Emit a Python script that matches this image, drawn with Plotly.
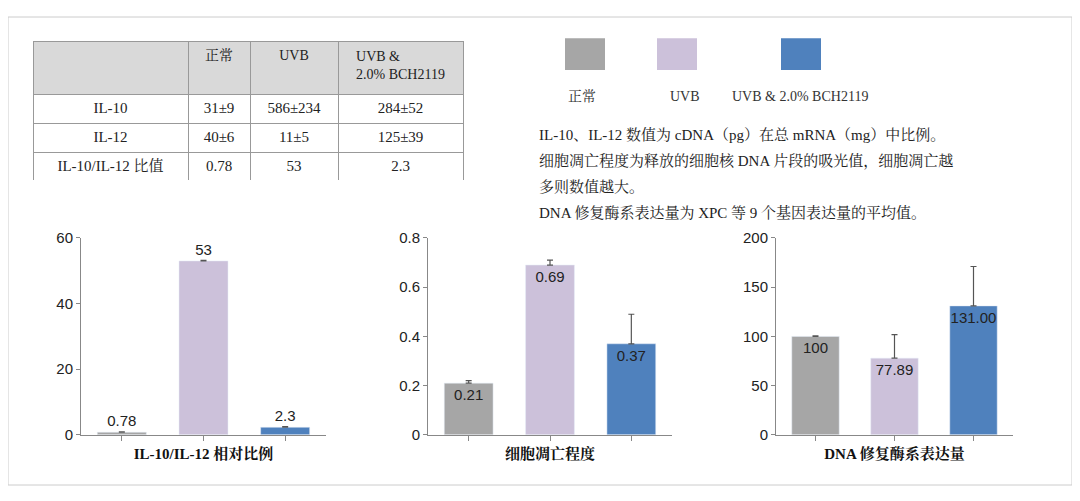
import plotly.graph_objects as go

groups = ["正常", "UVB", "UVB & 2.0% BCH2119"]
colors = ["#a6a6a6", "#ccc1da", "#4f81bd"]
ratio_vals = [0.78, 53, 2.3]
ratio_err = [0.15, 0.2, 0.2]
ratio_lbl = ["0.78", "53", "2.3"]
apop_vals = [0.21, 0.69, 0.37]
apop_err = [0.01, 0.02, 0.12]
apop_lbl = ["0.21", "0.69", "0.37"]
dna_vals = [100, 77.89, 131.00]
dna_err = [0.5, 24, 40]
dna_lbl = ["100", "77.89", "131.00"]

tbl_head = ["", "正常", "UVB", "UVB &<br>2.0% BCH2119"]
tbl_rows = ["IL-10", "IL-12", "IL-10/IL-12 比值"]
tbl_c1 = ["31±9", "40±6", "0.78"]
tbl_c2 = ["586±234", "11±5", "53"]
tbl_c3 = ["284±52", "125±39", "2.3"]

notes = ["IL-10、IL-12 数值为 cDNA（pg）在总 mRNA（mg）中比例。",
         "细胞凋亡程度为释放的细胞核 DNA 片段的吸光值，细胞凋亡越",
         "多则数值越大。",
         "DNA 修复酶系表达量为 XPC 等 9 个基因表达量的平均值。"]

FONT = "Liberation Serif, Noto Serif CJK SC, Noto Sans CJK SC"
SANS = "Liberation Sans, Arial, Noto Sans CJK SC"
OFF = 8
W, H = 1080 - 2 * OFF, 501 - 2 * OFF
def px(x): return (x - OFF) / W
def py(y): return 1 - (y - OFF) / H

fig = go.Figure()
fig.add_trace(go.Table(
    domain=dict(x=[px(33), px(463)], y=[py(178), py(33)]),
    columnwidth=[155, 62, 88, 125],
    header=dict(values=tbl_head, fill_color="#d9d9d9", height=53,
                line=dict(color="#999", width=1), align="center",
                font=dict(family=FONT, size=14, color="#222")),
    cells=dict(values=[tbl_rows, tbl_c1, tbl_c2, tbl_c3], fill_color="white", height=29,
               line=dict(color="#999", width=1), align="center",
               font=dict(family=FONT, size=15, color="#222"))))

charts = [
    (ratio_vals, ratio_err, ratio_lbl, "outside", [0, 60], 20, [81, 326], "IL-10/IL-12 相对比例", ""),
    (apop_vals, apop_err, apop_lbl, "inside", [0, 0.8], 0.2, [428, 672], "细胞凋亡程度", "2"),
    (dna_vals, dna_err, dna_lbl, "inside", [0, 200], 50, [776, 1013], "DNA 修复酶系表达量", "3"),
]
for vals, err, lbl, pos, yr, dt, xd, title, s in charts:
    fig.add_trace(go.Bar(
        x=groups, y=vals, marker_color=colors, width=0.6,
        error_y=dict(type="data", array=err, symmetric=False, arrayminus=[0]*3,
                     color="#555", thickness=1.2, width=3),
        text=lbl, textposition=pos, insidetextanchor="end", textangle=0,
        constraintext="none",
        textfont=dict(family=SANS, size=15, color="#222"),
        cliponaxis=False, showlegend=False, xaxis="x" + s, yaxis="y" + s))
    fig.layout["xaxis" + s] = dict(domain=[px(xd[0]), px(xd[1])], anchor="y" + s,
                                   showticklabels=False, showline=True, linecolor="#888",
                                   ticks="outside", ticklen=5, tickcolor="#888",
                                   title=dict(text="<b>" + title + "</b>", standoff=8,
                                              font=dict(family=FONT, size=15, color="#111")))
    fig.layout["yaxis" + s] = dict(domain=[py(441), py(237)], anchor="x" + s, range=yr,
                                   dtick=dt, showgrid=False, showline=True, linecolor="#888",
                                   ticks="outside", ticklen=4, tickcolor="#888", zeroline=False,
                                   tickfont=dict(family=SANS, size=15, color="#222"))

shapes = [dict(type="rect", xref="paper", yref="paper", x0=px(8), x1=px(1072), y0=py(493), y1=py(8),
               line=dict(color="#ccc", width=1))]
ann = []
for c, x0 in zip(colors, [565, 657, 781]):
    shapes.append(dict(type="rect", xref="paper", yref="paper", x0=px(x0), x1=px(x0 + 40),
                       y0=py(63), y1=py(30), fillcolor=c, line=dict(width=0)))
for g, x in zip(groups, [566, 668, 730]):
    ann.append(dict(text=g, x=px(x), y=py(90), xref="paper", yref="paper", xanchor="left",
                    yanchor="middle", showarrow=False, font=dict(family=FONT, size=14, color="#333")))
for i, t in enumerate(notes):
    ann.append(dict(text=t, x=px(537), y=py(130 + 27 * i), xref="paper", yref="paper",
                    xanchor="left", yanchor="middle", showarrow=False,
                    font=dict(family=FONT, size=15, color="#222")))

fig.update_layout(width=W, height=H, margin=dict(l=0, r=0, t=0, b=0),
                  paper_bgcolor="white", plot_bgcolor="white", bargap=0.4,
                  shapes=shapes, annotations=ann)
fig.write_html("out.html")
